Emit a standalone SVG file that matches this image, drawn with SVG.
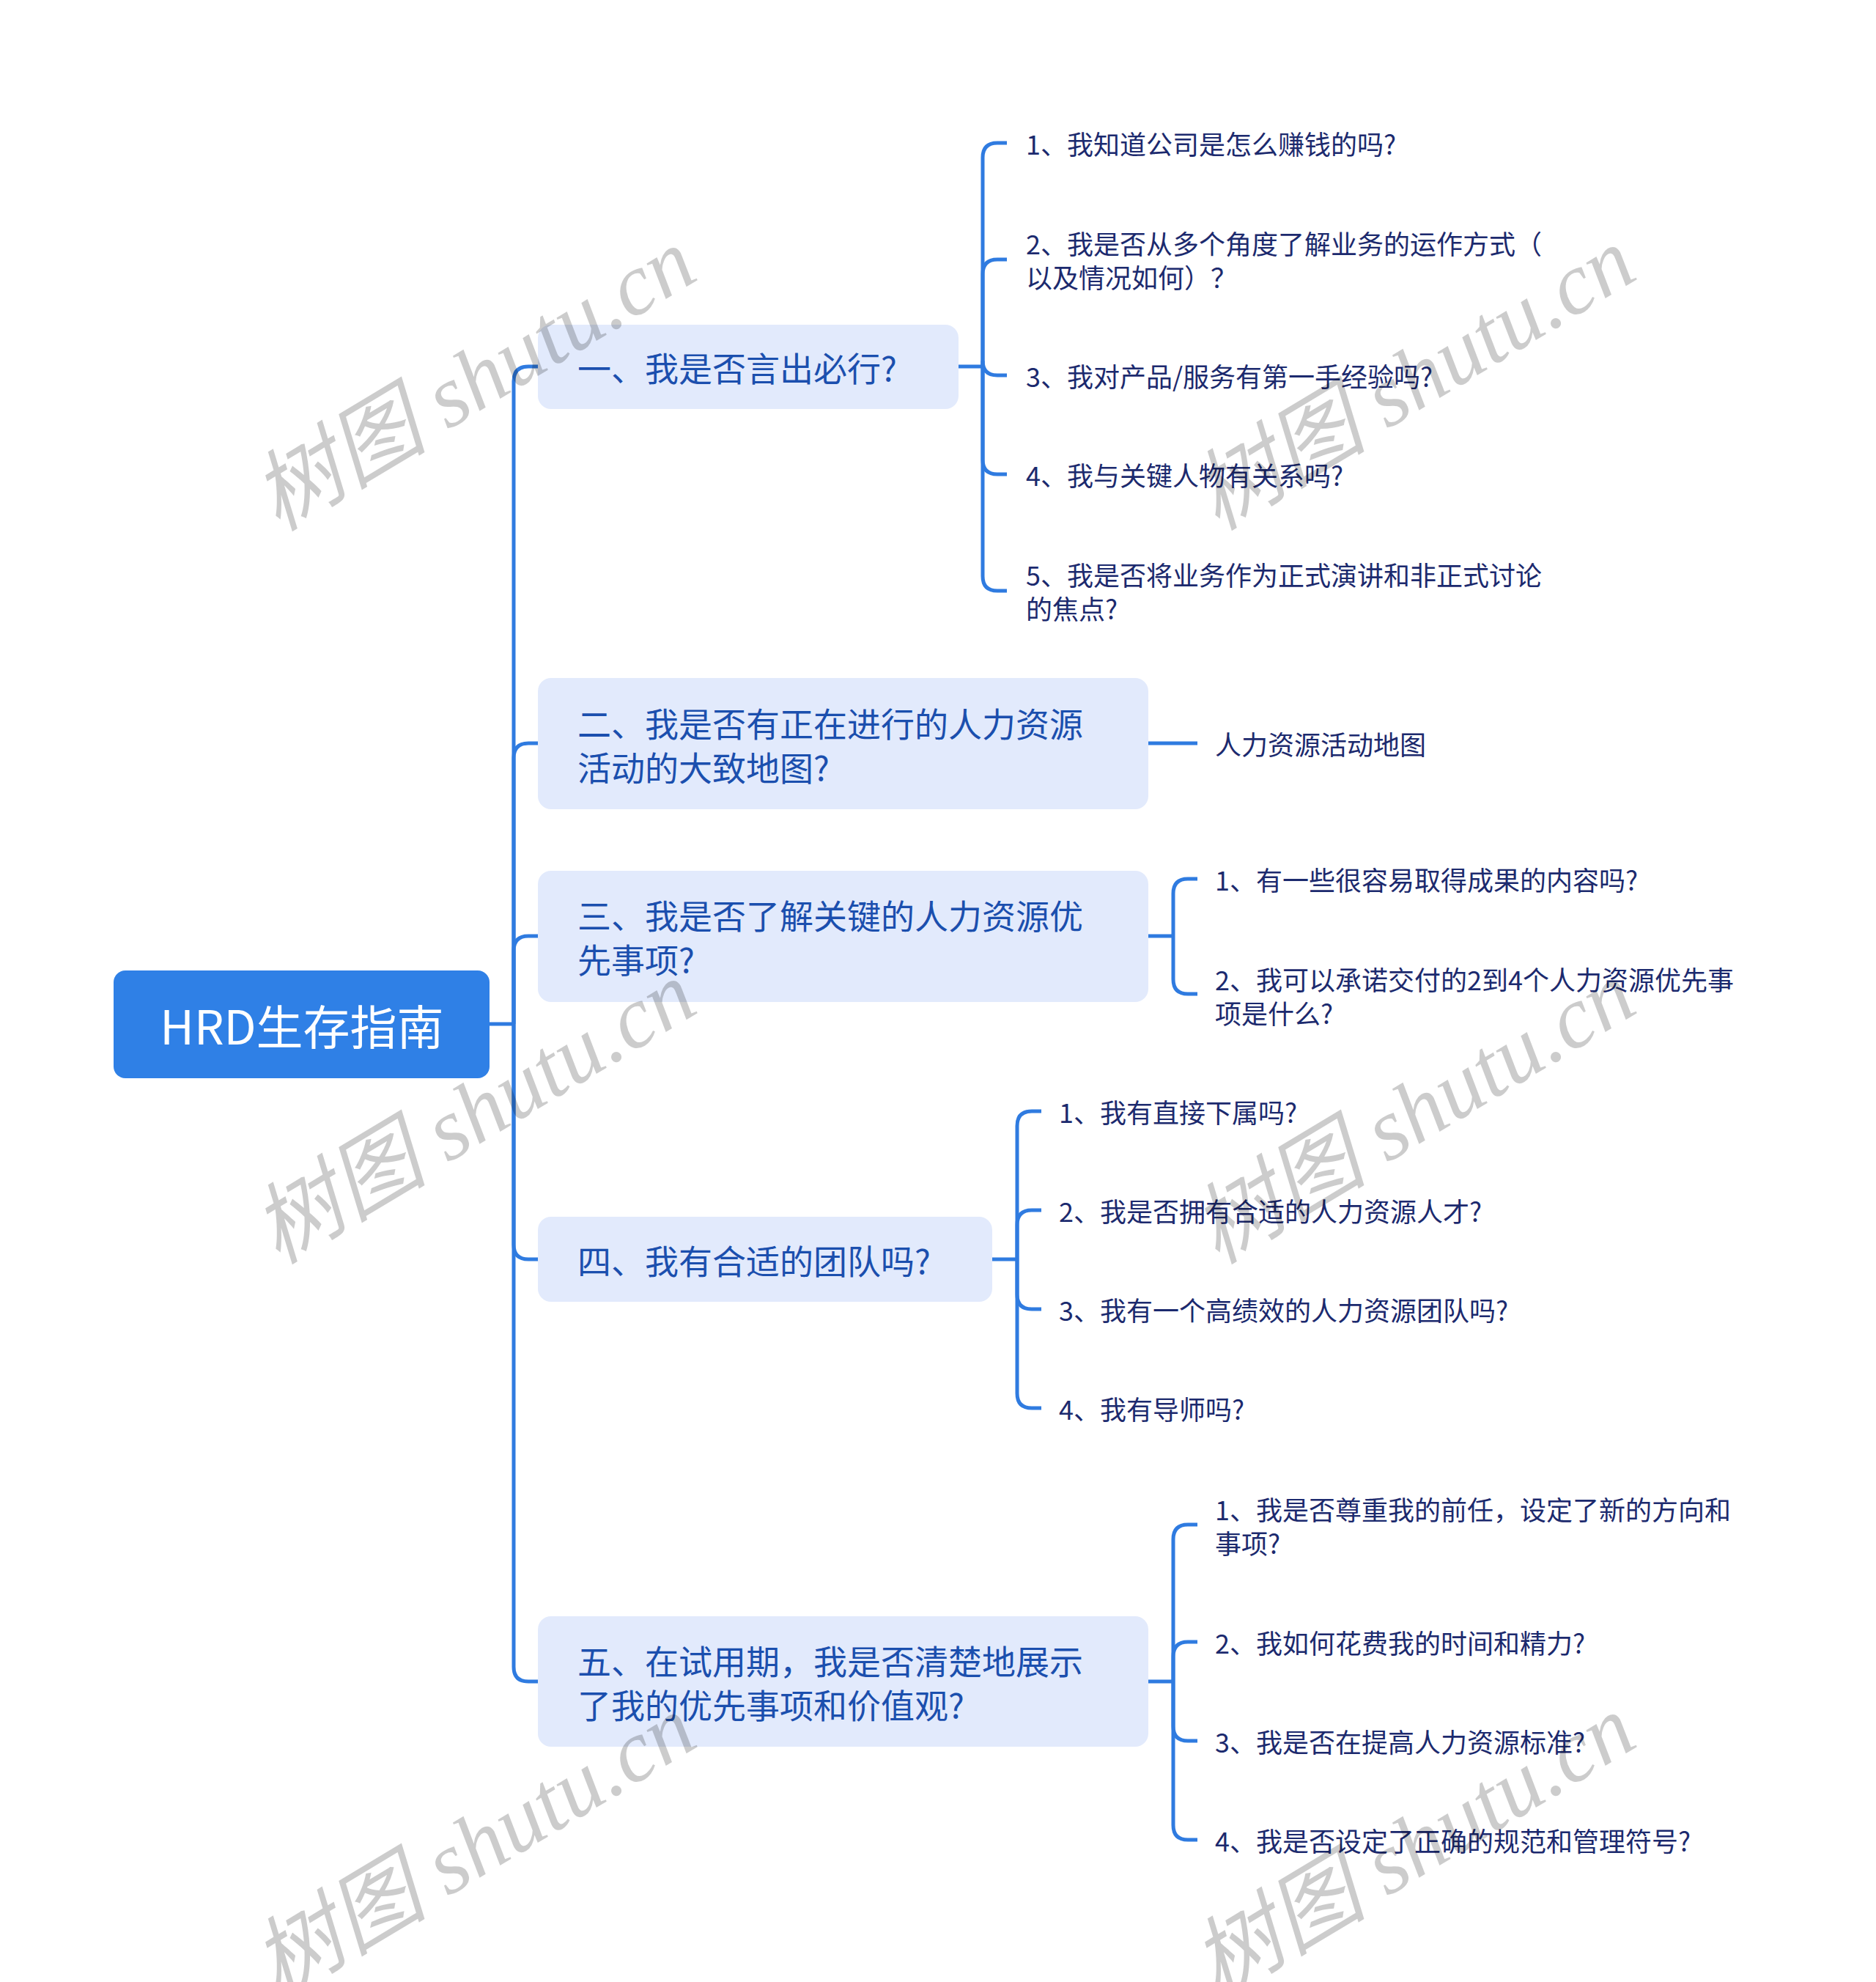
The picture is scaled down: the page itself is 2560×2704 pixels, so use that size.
<svg xmlns="http://www.w3.org/2000/svg" width="2560" height="2704" viewBox="0 0 2560 2704">
<style>
.bg{fill:#ffffff}
.root{fill:#2f80e6}
.rootT{fill:#ffffff;font-family:"Noto Sans CJK SC","Noto Sans",sans-serif;font-size:64px;text-anchor:middle;dominant-baseline:central}
.n1{fill:#e2eafc}
.n1T{fill:#1b4fae;font-family:"Noto Sans CJK SC",sans-serif;font-size:46px;dominant-baseline:central}
.leafT{fill:#1c2a6e;font-family:"Noto Sans CJK SC",sans-serif;font-size:36px;dominant-baseline:central}
.c{fill:none;stroke:#2f7be0;stroke-width:5;stroke-linecap:butt}
.wm{fill:#000000;fill-opacity:0.2;font-family:"Liberation Serif","Noto Sans CJK SC",serif;font-style:italic;font-size:120px;text-anchor:middle;dominant-baseline:central}
</style>
<rect class="bg" x="0" y="0" width="2560" height="2704"/>

<g id="connectors">
  <!-- root to trunk -->
  <path class="c" d="M668,1397 H701"/>
  <path class="c" d="M701,1397 V520 Q701,500 721,500 H734"/>
  <path class="c" d="M701,1397 V1034 Q701,1014 721,1014 H734"/>
  <path class="c" d="M701,1397 V1297 Q701,1277 721,1277 H734"/>
  <path class="c" d="M701,1397 V1698 Q701,1718 721,1718 H734"/>
  <path class="c" d="M701,1397 V2274 Q701,2294 721,2294 H734"/>
  <!-- node 1 -->
  <path class="c" d="M1308,500 H1341"/>
  <path class="c" d="M1341,500 V215 Q1341,195 1361,195 H1374"/>
  <path class="c" d="M1341,500 V374 Q1341,354 1361,354 H1374"/>
  <path class="c" d="M1341,500 V492 Q1341,512 1361,512 H1374"/>
  <path class="c" d="M1341,500 V627 Q1341,647 1361,647 H1374"/>
  <path class="c" d="M1341,500 V786 Q1341,806 1361,806 H1374"/>
  <!-- node 2 -->
  <path class="c" d="M1567,1014 H1634"/>
  <!-- node 3 -->
  <path class="c" d="M1567,1277 H1601"/>
  <path class="c" d="M1601,1277 V1219 Q1601,1199 1621,1199 H1634"/>
  <path class="c" d="M1601,1277 V1336 Q1601,1356 1621,1356 H1634"/>
  <!-- node 4 -->
  <path class="c" d="M1354,1718 H1388"/>
  <path class="c" d="M1388,1718 V1536 Q1388,1516 1408,1516 H1421"/>
  <path class="c" d="M1388,1718 V1671 Q1388,1651 1408,1651 H1421"/>
  <path class="c" d="M1388,1718 V1766 Q1388,1786 1408,1786 H1421"/>
  <path class="c" d="M1388,1718 V1901 Q1388,1921 1408,1921 H1421"/>
  <!-- node 5 -->
  <path class="c" d="M1567,2294 H1601"/>
  <path class="c" d="M1601,2294 V2100 Q1601,2080 1621,2080 H1634"/>
  <path class="c" d="M1601,2294 V2260 Q1601,2240 1621,2240 H1634"/>
  <path class="c" d="M1601,2294 V2355 Q1601,2375 1621,2375 H1634"/>
  <path class="c" d="M1601,2294 V2490 Q1601,2510 1621,2510 H1634"/>
</g>

<g id="root">
  <rect class="root" x="155" y="1324" width="513" height="147" rx="16"/>
  <text class="rootT" x="412" y="1397">HRD生存指南</text>
</g>

<g id="node1">
  <rect class="n1" x="734" y="443" width="574" height="115" rx="18"/>
  <text class="n1T" x="788" y="500">一、我是否言出必行?</text>
</g>
<g id="node2">
  <rect class="n1" x="734" y="925" width="833" height="179" rx="18"/>
  <text class="n1T" x="788" y="985">二、我是否有正在进行的人力资源</text>
  <text class="n1T" x="788" y="1045">活动的大致地图?</text>
</g>
<g id="node3">
  <rect class="n1" x="734" y="1188" width="833" height="179" rx="18"/>
  <text class="n1T" x="788" y="1247">三、我是否了解关键的人力资源优</text>
  <text class="n1T" x="788" y="1307">先事项?</text>
</g>
<g id="node4">
  <rect class="n1" x="734" y="1660" width="620" height="116" rx="18"/>
  <text class="n1T" x="788" y="1718">四、我有合适的团队吗?</text>
</g>
<g id="node5">
  <rect class="n1" x="734" y="2205" width="833" height="178" rx="18"/>
  <text class="n1T" x="788" y="2264">五、在试用期，我是否清楚地展示</text>
  <text class="n1T" x="788" y="2324">了我的优先事项和价值观?</text>
</g>

<g id="leaf1-1"><text class="leafT" x="1400" y="195">1、我知道公司是怎么赚钱的吗?</text></g>
<g id="leaf1-2">
  <text class="leafT" x="1400" y="331">2、我是否从多个角度了解业务的运作方式（</text>
  <text class="leafT" x="1400" y="377">以及情况如何）？</text>
</g>
<g id="leaf1-3"><text class="leafT" x="1400" y="512">3、我对产品/服务有第一手经验吗?</text></g>
<g id="leaf1-4"><text class="leafT" x="1400" y="647">4、我与关键人物有关系吗?</text></g>
<g id="leaf1-5">
  <text class="leafT" x="1400" y="783">5、我是否将业务作为正式演讲和非正式讨论</text>
  <text class="leafT" x="1400" y="829">的焦点?</text>
</g>
<g id="leaf2-1"><text class="leafT" x="1658" y="1014">人力资源活动地图</text></g>
<g id="leaf3-1"><text class="leafT" x="1658" y="1199">1、有一些很容易取得成果的内容吗?</text></g>
<g id="leaf3-2">
  <text class="leafT" x="1658" y="1335">2、我可以承诺交付的2到4个人力资源优先事</text>
  <text class="leafT" x="1658" y="1381">项是什么?</text>
</g>
<g id="leaf4-1"><text class="leafT" x="1445" y="1516">1、我有直接下属吗?</text></g>
<g id="leaf4-2"><text class="leafT" x="1445" y="1651">2、我是否拥有合适的人力资源人才?</text></g>
<g id="leaf4-3"><text class="leafT" x="1445" y="1786">3、我有一个高绩效的人力资源团队吗?</text></g>
<g id="leaf4-4"><text class="leafT" x="1445" y="1921">4、我有导师吗?</text></g>
<g id="leaf5-1">
  <text class="leafT" x="1658" y="2058">1、我是否尊重我的前任，设定了新的方向和</text>
  <text class="leafT" x="1658" y="2104">事项?</text>
</g>
<g id="leaf5-2"><text class="leafT" x="1658" y="2240">2、我如何花费我的时间和精力?</text></g>
<g id="leaf5-3"><text class="leafT" x="1658" y="2375">3、我是否在提高人力资源标准?</text></g>
<g id="leaf5-4"><text class="leafT" x="1658" y="2510">4、我是否设定了正确的规范和管理符号?</text></g>

<g id="watermarks">
  <text class="wm" transform="rotate(-31 647 518)" x="647" y="518">树图 shutu.cn</text>
  <text class="wm" transform="rotate(-31 1929 517)" x="1929" y="517">树图 shutu.cn</text>
  <text class="wm" transform="rotate(-31 647 1518)" x="647" y="1518">树图 shutu.cn</text>
  <text class="wm" transform="rotate(-31 1929 1518)" x="1929" y="1518">树图 shutu.cn</text>
  <text class="wm" transform="rotate(-31 647 2519)" x="647" y="2519">树图 shutu.cn</text>
  <text class="wm" transform="rotate(-31 1929 2519)" x="1929" y="2519">树图 shutu.cn</text>
</g>
</svg>
